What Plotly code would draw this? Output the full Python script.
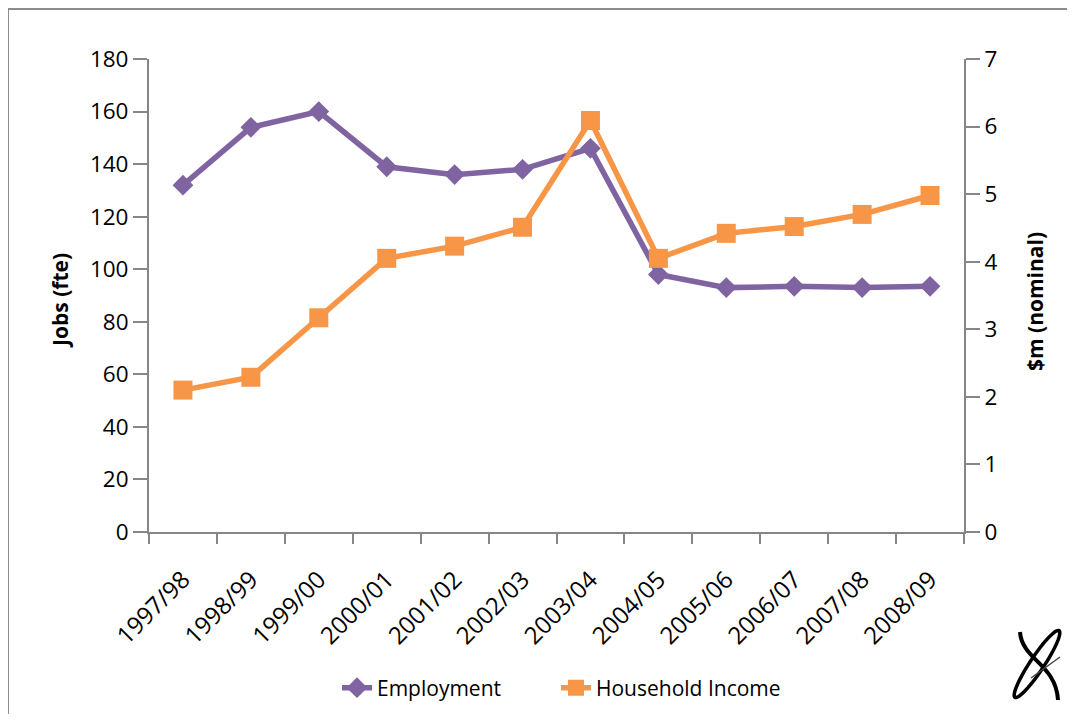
import plotly.graph_objects as go
import numpy as np

years = ["1997/98", "1998/99", "1999/00", "2000/01", "2001/02", "2002/03",
         "2003/04", "2004/05", "2005/06", "2006/07", "2007/08", "2008/09"]
employment = [132, 154, 160, 139, 136, 138, 146, 98, 93, 93.5, 93, 93.5]
household_income = [2.10, 2.29, 3.17, 4.05, 4.23, 4.51, 6.09, 4.05, 4.42, 4.52, 4.70, 4.98]
left_ticks = [0, 20, 40, 60, 80, 100, 120, 140, 160, 180]
right_ticks = [0, 1, 2, 3, 4, 5, 6, 7]

PURPLE = "#8064A2"
ORANGE = "#F79646"
AXIS = "#868686"
FONT = "Open Sans"

fig = go.Figure()
fig.add_trace(go.Scatter(
    x=years, y=employment, name="Employment", mode="lines+markers",
    line=dict(color=PURPLE, width=5.5),
    marker=dict(symbol="diamond", size=16, color=PURPLE),
    legend="legend",
))
fig.add_trace(go.Scatter(
    x=years, y=household_income, name="Household Income", mode="lines+markers",
    line=dict(color=ORANGE, width=5.5),
    marker=dict(symbol="square", size=19, color=ORANGE),
    yaxis="y2", legend="legend2",
))

OFF = 8  # page body margin
W, H = 1075 - 2 * OFF, 722 - 2 * OFF
# plot area in screen pixels
SL, SR, ST, SB = 149, 964, 59, 532
L, R, T, B = SL - OFF, SR - OFF, ST - OFF, SB - OFF


def px(x):  # screen x -> paper
    return (x - SL) / (SR - SL)


def py(y):  # screen y -> paper
    return (SB - y) / (SB - ST)


def leg(xs):
    return dict(orientation="h", xref="container", yref="container",
                x=(xs - OFF) / W, xanchor="left",
                y=1 - (688 - OFF) / H, yanchor="middle",
                font=dict(size=21), bgcolor="rgba(0,0,0,0)")


fig.update_layout(
    width=W, height=H,
    margin=dict(l=L, r=W - R, t=T, b=H - B, pad=0),
    paper_bgcolor="white", plot_bgcolor="white",
    font=dict(family=FONT, size=21, color="#000000"),
    showlegend=True,
    legend=leg(337),
    legend2=leg(556),
    xaxis=dict(
        type="category", range=[-0.5, 11.5], tickson="boundaries",
        showline=True, linecolor=AXIS, linewidth=2,
        ticks="outside", ticklen=10, tickcolor=AXIS, tickwidth=2,
        tickangle=-45, showgrid=False, zeroline=False,
        tickfont=dict(size=24), automargin=False, ticklabelstandoff=22,
    ),
    yaxis=dict(
        range=[0, 180], tickvals=left_ticks, showgrid=False, zeroline=False,
        showline=True, linecolor=AXIS, linewidth=2,
        ticks="outside", ticklen=14, tickcolor=AXIS, tickwidth=2,
        tickfont=dict(size=22.5), automargin=False,
    ),
    yaxis2=dict(
        range=[0, 7], tickvals=right_ticks, overlaying="y", side="right",
        showgrid=False, zeroline=False,
        showline=True, linecolor=AXIS, linewidth=2,
        ticks="outside", ticklen=14, tickcolor=AXIS, tickwidth=2,
        tickfont=dict(size=22.5), automargin=False,
    ),
)

annotations = [
    dict(text="<b>Jobs (fte)</b>", xref="paper", yref="paper", x=px(60), y=py(301),
         showarrow=False, textangle=-90, xanchor="center", yanchor="middle",
         font=dict(size=21)),
    dict(text="<b>$m (nominal)</b>", xref="paper", yref="paper", x=px(1035), y=py(302),
         showarrow=False, textangle=-90, xanchor="center", yanchor="middle",
         font=dict(size=21)),
]

shapes = []
# chart border
shapes.append(dict(type="rect", xref="paper", yref="paper",
                   x0=px(8), x1=px(1072), y0=py(740), y1=py(9),
                   line=dict(color="#8C8C8C", width=2), fillcolor="rgba(0,0,0,0)"))


# logo approximation
def ell_path(cx, cy, rx, ry, ang, n=60):
    t = np.linspace(0, 2 * np.pi, n)
    a = np.deg2rad(ang)
    xs = cx + rx * np.cos(t) * np.cos(a) - ry * np.sin(t) * np.sin(a)
    ys = cy + rx * np.cos(t) * np.sin(a) + ry * np.sin(t) * np.cos(a)
    pts = [f"{px(x):.5f},{py(y):.5f}" for x, y in zip(xs, ys)]
    return "M" + " L".join(pts) + " Z"


def P(x, y):
    return f"{px(x):.5f},{py(y):.5f}"


shapes.append(dict(type="path", xref="paper", yref="paper",
                   path=ell_path(1037, 664, 40, 7, -56.5), line=dict(color="black", width=3.5)))
shapes.append(dict(type="path", xref="paper", yref="paper",
                   path=f"M{P(1020, 632)} C{P(1022, 660)} {P(1056, 664)} {P(1058, 700)}",
                   line=dict(color="black", width=4)))
shapes.append(dict(type="path", xref="paper", yref="paper",
                   path=f"M{P(1031, 678)} L{P(1060, 657)}",
                   line=dict(color="#444444", width=1.5)))

fig.update_layout(shapes=shapes, annotations=annotations)

fig.write_html("out.html")
